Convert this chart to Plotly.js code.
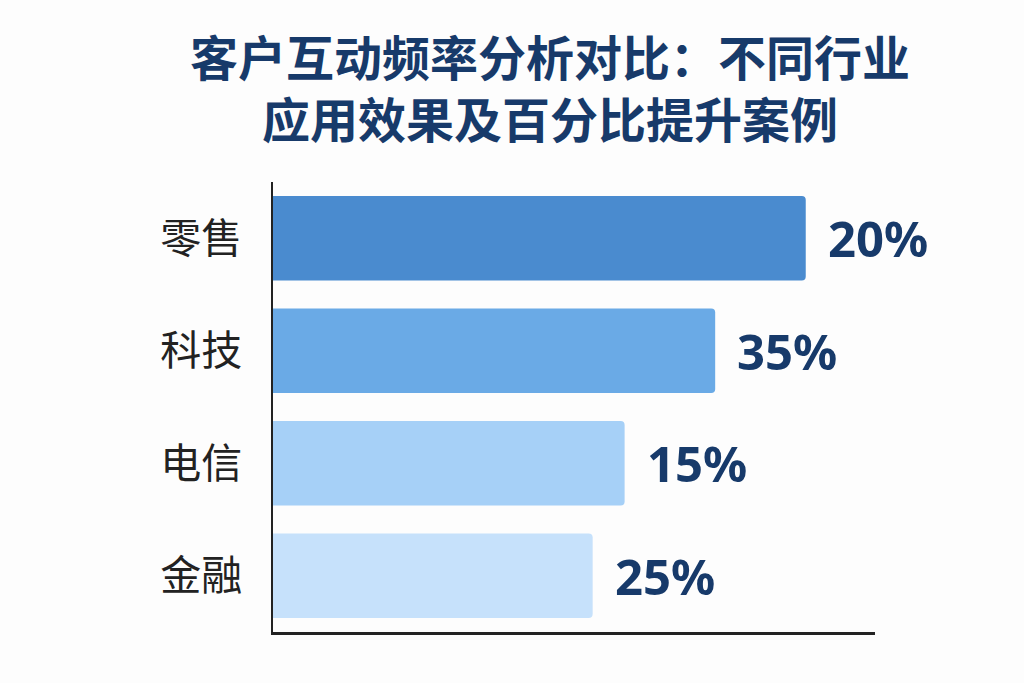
<!DOCTYPE html>
<html>
<head>
<meta charset="utf-8">
<script src="https://cdn.plot.ly/plotly-3.0.1.min.js"></script>
<style>
    html, body { margin: 0; padding: 0; background: #fdfdfd; }
    #plotly-chart { width: 1024px; height: 683px; }
</style>
</head>
<body>
<div id="plotly-chart"></div>
<script>
// industries, top to bottom as shown
const industries = ['零售', '科技', '电信', '金融'];
// bar lengths as drawn (relative)
const barLengths = [100, 83, 66, 60];
// the printed percentage labels
const upliftLabels = ['20%', '35%', '15%', '25%'];
const barColors = ['#4a8bcf', '#6aaae6', '#a6d0f7', '#c6e1fb'];

const titleLines = ['客户互动频率分析对比：不同行业', '应用效果及百分比提升案例'];

async function drawChart() {
    const bars = {
        type: 'bar',
        orientation: 'h',
        x: barLengths,
        y: industries,
        marker: { color: barColors, cornerradius: 4, line: { width: 0 } },
        hoverinfo: 'skip',
    };

    const annotations = industries.map((name, i) => ({
        x: barLengths[i],
        y: name,
        xref: 'x',
        yref: 'y',
        text: upliftLabels[i],
        showarrow: false,
        xanchor: 'left',
        xshift: 20,
        font: { family: 'Noto Sans, Noto Sans CJK SC', size: 49, color: '#173a6a', weight: 'bold' },
    }));

    const layout = {
        width: 1024,
        height: 683,
        paper_bgcolor: '#fdfdfd',
        plot_bgcolor: '#fdfdfd',
        margin: { t: 182, r: 149, b: 51, l: 273 },
        showlegend: false,
        bargap: 0.25,
        title: {
            text: titleLines.join('<br>'),
            xref: 'container',
            x: 0.537,
            xanchor: 'center',
            yref: 'container',
            y: 0.889,
            yanchor: 'middle',
            font: { family: 'Noto Sans CJK SC', size: 48, color: '#173a6a', weight: 'bold' },
        },
        xaxis: {
            range: [0, 113],
            showgrid: false,
            zeroline: false,
            showticklabels: false,
            showline: true,
            linecolor: '#222',
            linewidth: 2.5,
            fixedrange: true,
        },
        yaxis: {
            autorange: 'reversed',
            showgrid: false,
            zeroline: false,
            showline: true,
            linecolor: '#222',
            linewidth: 2.5,
            ticks: '',
            ticklabelstandoff: 20,
            tickfont: { family: 'Noto Sans CJK SC', size: 41, color: '#222' },
            fixedrange: true,
        },
        annotations: annotations,
    };

    const config = { displayModeBar: false, responsive: false, staticPlot: true };

    await Plotly.newPlot('plotly-chart', [bars], layout, config);
}

drawChart();
</script>
</body>
</html>
